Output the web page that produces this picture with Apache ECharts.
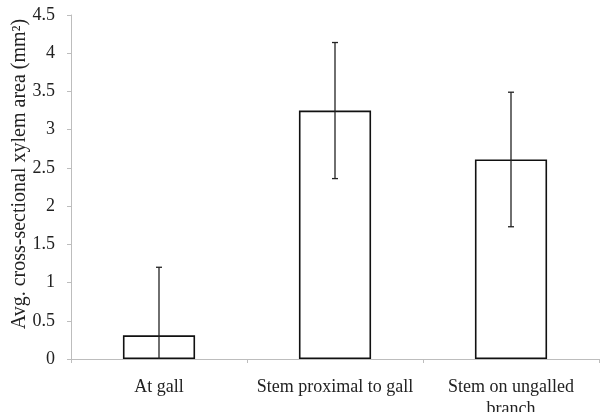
<!DOCTYPE html>
<html>
<head>
<meta charset="utf-8">
<script src="https://cdn.jsdelivr.net/npm/echarts@6/dist/echarts.min.js"></script>
<style>html,body{margin:0;padding:0;background:#fff}#c{width:600px;height:412px}</style>
</head>
<body>
<div id="c"></div>
<script>
var categories = ['At gall', 'Stem proximal to gall', 'Stem on ungalled\nbranch'];
var means = [0.31, 3.25, 2.61];
var errors = [0.89, 0.89, 0.88];
var yTicks = [0, 0.5, 1, 1.5, 2, 2.5, 3, 3.5, 4, 4.5];

var chart = echarts.init(document.getElementById('c'));
var font = 'Liberation Serif';
var errData = categories.map(function (c, i) { return [i, means[i] - errors[i], means[i] + errors[i]]; });

chart.setOption({
  animation: false,
  grid: { left: 71, right: 1, top: 15, bottom: 53, containLabel: false, outerBoundsMode: 'none' },
  xAxis: {
    type: 'category',
    data: categories,
    boundaryGap: true,
    axisLine: { lineStyle: { color: '#bdbdbd', width: 1 } },
    axisTick: { show: true, alignWithLabel: false, length: 4, lineStyle: { color: '#bdbdbd' } },
    axisLabel: { color: '#222', fontFamily: font, fontSize: 18, margin: 17, lineHeight: 22, interval: 0 }
  },
  yAxis: {
    type: 'value',
    min: 0, max: 4.5, interval: 0.5,
    name: 'Avg. cross-sectional xylem area (mm²)',
    nameLocation: 'middle',
    nameGap: 41,
    nameMoveOverlap: false,
    nameTextStyle: { color: '#222', fontFamily: font, fontSize: 20, padding: [0, 0, 0, 26] },
    axisLine: { show: true, lineStyle: { color: '#bdbdbd', width: 1 } },
    axisTick: { show: true, length: 4, lineStyle: { color: '#bdbdbd' } },
    splitLine: { show: false },
    axisLabel: {
      color: '#222', fontFamily: font, fontSize: 18, margin: 16,
      formatter: function (v) { return yTicks.indexOf(v) >= 0 ? String(v) : ''; }
    }
  },
  series: [
    {
      type: 'bar',
      data: means,
      barWidth: '41%',
      itemStyle: { color: '#fff', borderColor: '#111', borderWidth: 1.6 }
    },
    {
      type: 'custom',
      data: errData,
      z: 10,
      renderItem: function (params, api) {
        var x = api.value(0);
        var loVal = api.value(1);
        var clipped = loVal < 0;
        var lo = api.coord([x, clipped ? 0 : loVal]);
        var hi = api.coord([x, api.value(2)]);
        var cap = 3;
        var st = { stroke: '#222', lineWidth: 1.3 };
        var children = [
          { type: 'line', shape: { x1: lo[0], y1: lo[1], x2: hi[0], y2: hi[1] }, style: st },
          { type: 'line', shape: { x1: hi[0] - cap, y1: hi[1], x2: hi[0] + cap, y2: hi[1] }, style: st }
        ];
        if (!clipped) {
          children.push({ type: 'line', shape: { x1: lo[0] - cap, y1: lo[1], x2: lo[0] + cap, y2: lo[1] }, style: st });
        }
        return { type: 'group', children: children };
      }
    }
  ]
});
</script>
</body>
</html>
